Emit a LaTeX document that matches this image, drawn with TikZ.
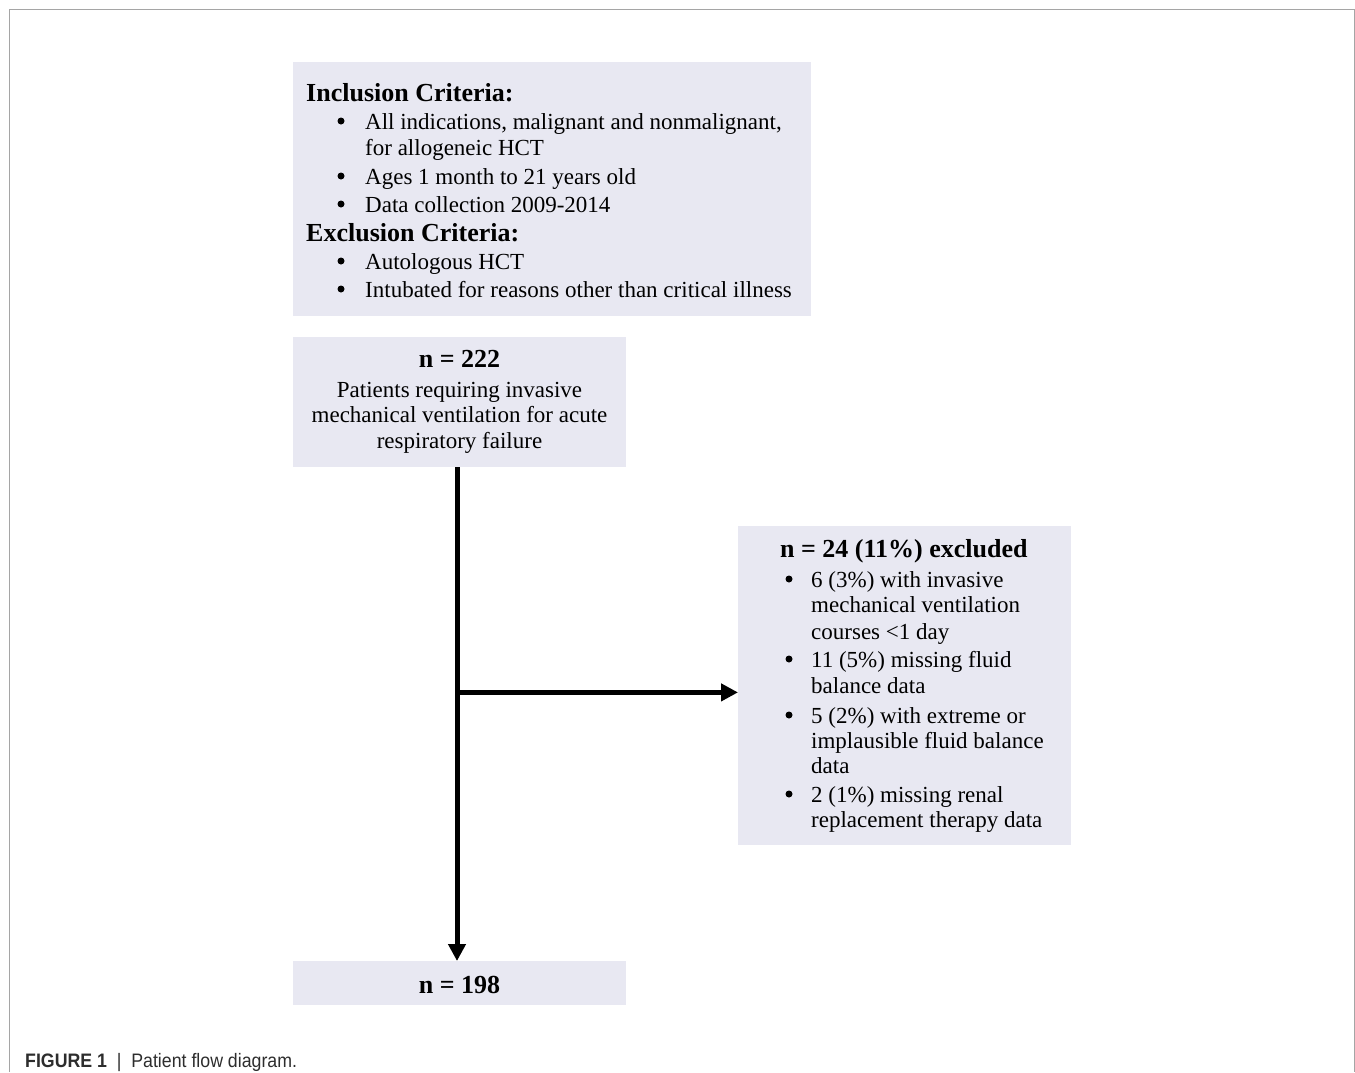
\documentclass[tikz,border=0pt]{standalone}
\usepackage{fontspec}
\setmainfont{Liberation Serif}
\newfontfamily\capfont{Liberation Sans}
\usetikzlibrary{arrows.meta,calc}
\definecolor{boxfill}{RGB}{232,232,242}
\definecolor{framegray}{RGB}{165,165,165}
\definecolor{capgray}{RGB}{45,45,45}
\tikzset{
  box/.style={draw=none,fill=boxfill,inner sep=0pt,anchor=north west},
  txt/.style={inner sep=0pt,anchor=base west,font=\fontsize{23}{26}\selectfont},
  ctxt/.style={inner sep=0pt,anchor=base,font=\fontsize{23}{26}\selectfont},
  head/.style={inner sep=0pt,anchor=base west,font=\fontsize{26}{28}\selectfont\bfseries},
  chead/.style={inner sep=0pt,anchor=base,font=\fontsize{26}{28}\selectfont\bfseries},
  bul/.style={circle,fill=black,inner sep=0pt,minimum size=7pt},
  flow/.style={line width=5pt,-{Triangle[length=17pt,width=17pt]}},
  flowline/.style={line width=5pt}
}
\begin{document}
\begin{tikzpicture}[x=1pt,y=-1pt]
\useasboundingbox (0,0) rectangle (1355,1072);
% outer frame
\draw[framegray,line width=1.5pt] (9.5,1072) -- (9.5,9.5) -- (1354.5,9.5) -- (1354.5,1072);

% boxes
\node[box,minimum width=518pt,minimum height=254pt] (crit) at (293,62) {};
\node[box,minimum width=333pt,minimum height=130pt] (start) at (293,337) {};
\node[box,minimum width=333pt,minimum height=319pt] (excl) at (738,526) {};
\node[box,minimum width=333pt,minimum height=44pt] (final) at (293,961) {};

% criteria text
\node[head] (h1) at (306,101) {Inclusion Criteria:};
\node[bul] (b1) at (341,121) {};
\node[txt] (t1) at (365,129) {All indications, malignant and nonmalignant,};
\node[txt] (t1b) at (365,155) {for allogeneic HCT};
\node[bul] (b2) at (341,176) {};
\node[txt] (t2) at (365,184) {Ages 1 month to 21 years old};
\node[bul] (b3) at (341,204) {};
\node[txt] (t3) at (365,212) {Data collection 2009-2014};
\node[head] (h2) at (306,241) {Exclusion Criteria:};
\node[bul] (b4) at (341,261) {};
\node[txt] (t4) at (365,269) {Autologous HCT};
\node[bul] (b5) at (341,289) {};
\node[txt] (t5) at (365,297) {Intubated for reasons other than critical illness};

% start text
\node[chead] (n222) at (459.5,367) {n = 222};
\node[ctxt] (s1) at (459.5,397) {Patients requiring invasive};
\node[ctxt] (s2) at (459.5,422) {mechanical ventilation for acute};
\node[ctxt] (s3) at (459.5,448) {respiratory failure};

% excluded text
\node[head] (n24) at (780,557) {n = 24 (11\%) excluded};
\node[bul] (e1b) at (789,579) {};
\node[txt] (e1) at (811,587) {6 (3\%) with invasive};
\node[txt] (e1c) at (811,612) {mechanical ventilation};
\node[txt] (e1d) at (811,639) {courses <1 day};
\node[bul] (e2b) at (789,659) {};
\node[txt] (e2) at (811,667) {11 (5\%) missing fluid};
\node[txt] (e2c) at (811,693) {balance data};
\node[bul] (e3b) at (789,715) {};
\node[txt] (e3) at (811,723) {5 (2\%) with extreme or};
\node[txt] (e3c) at (811,748) {implausible fluid balance};
\node[txt] (e3d) at (811,773) {data};
\node[bul] (e4b) at (789,794) {};
\node[txt] (e4) at (811,802) {2 (1\%) missing renal};
\node[txt] (e4c) at (811,827) {replacement therapy data};

% final text
\node[chead] (n198) at (459.5,993) {n = 198};

% connectors
\coordinate (branch) at ($(start.south west)+(164,225)$);
\draw[flow] ($(start.south west)+(164,0)$) -- ($(final.north west)+(164,0)$);
\draw[flow] (branch) -- (branch -| excl.west);

% caption
\node[inner sep=0pt,anchor=base west,text=capgray,font=\capfont\fontsize{19.5}{22}\selectfont,xscale=0.91] (cap) at (25,1067) {\textbf{FIGURE 1}\ \ |\ \ Patient flow diagram.};
\end{tikzpicture}
\end{document}
